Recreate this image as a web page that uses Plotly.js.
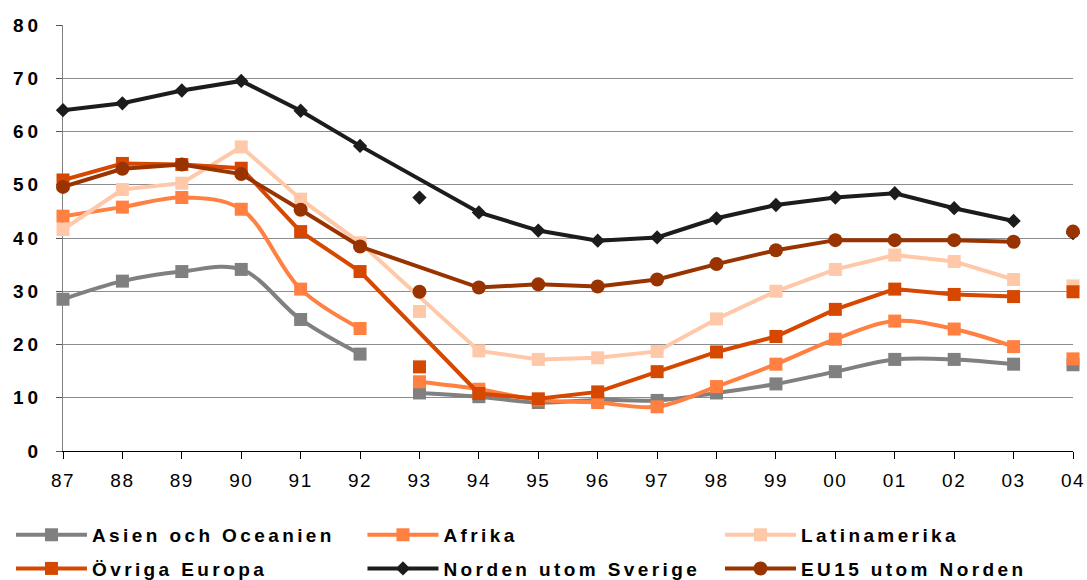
<!DOCTYPE html>
<html>
<head>
<meta charset="utf-8">
<script src="https://cdn.plot.ly/plotly-3.0.1.min.js"></script>
<style>
  html, body { margin: 0; padding: 0; background: #fff; }
  #chart { width: 1087px; height: 580px; }
  .ytick text { letter-spacing: 4px; }
  .xtick text { letter-spacing: 1.5px; }
</style>
</head>
<body>
<div id="chart"></div>
<script>
// ---- data ----
const years = ['87','88','89','90','91','92','93','94','95','96','97','98','99','00','01','02','03','04'];

const seriesNames = ['Asien och Oceanien', 'Afrika', 'Latinamerika', 'Övriga Europa', 'Norden utom Sverige', 'EU15 utom Norden'];

const asien  = [28.5, 31.9, 33.7, 34.1, 24.7, 18.2, 10.9, 10.2, 9.1, 9.6, 9.5, 10.9, 12.6, 14.9, 17.2, 17.2, 16.3, 16.2];
const afrika = [44.1, 45.8, 47.6, 45.4, 30.4, 23.0, 13.0, 11.6, 9.6, 9.1, 8.3, 12.1, 16.3, 21.0, 24.4, 22.9, 19.6, 17.3];
const latin  = [41.6, 49.1, 50.3, 57.1, 47.3, 39.1, 26.2, 18.8, 17.2, 17.5, 18.7, 24.8, 30.0, 34.1, 36.8, 35.6, 32.2, 31.0];
const ovriga = [50.9, 54.0, 53.8, 53.1, 41.2, 33.7, 15.8, 10.8, 9.8, 11.1, 14.9, 18.6, 21.5, 26.6, 30.4, 29.4, 29.0, 29.9];
const norden = [64.0, 65.3, 67.7, 69.5, 63.9, 57.3, 47.6, 44.8, 41.4, 39.5, 40.1, 43.7, 46.2, 47.6, 48.4, 45.6, 43.2, 40.9];
const eu15   = [49.6, 53.0, 53.8, 52.0, 45.3, 38.4, 29.9, 30.7, 31.3, 30.9, 32.2, 35.1, 37.7, 39.6, 39.6, 39.6, 39.3, 41.2];

// ---- structure: which points are joined by lines ----
const range = (a, b) => Array.from({length: b - a + 1}, (_, i) => a + i);
// line runs 87-92 and jumps over 93 to 94-03; 93 and 04 stand alone
const joinOver93 = { segments: [range(0, 5).concat(range(7, 16))], alone: [6, 17] };
// line breaks between 92 and 93; 04 stands alone
const breakAt93  = { segments: [range(0, 5), range(6, 16)], alone: [17] };

// ---- styles ----
const colors  = ['#808080', '#FF8040', '#FFC8A8', '#D64800', '#1C1C1C', '#993300'];
const symbols = ['square', 'square', 'square', 'square', 'diamond', 'circle'];
const msizes  = [13, 13, 13, 13, 11, 14];
const shapes  = ['spline', 'spline', 'linear', 'linear', 'linear', 'linear'];
const layouts = [breakAt93, breakAt93, joinOver93, joinOver93, joinOver93, joinOver93];
const values  = [asien, afrika, latin, ovriga, norden, eu15];
const legendIds = ['legend', 'legend2', 'legend3', 'legend4', 'legend5', 'legend6'];

const traces = [];
values.forEach((vals, s) => {
  const marker = { color: colors[s], symbol: symbols[s], size: msizes[s], line: { width: 0 } };
  layouts[s].segments.forEach((idx, k) => {
    traces.push({
      type: 'scatter', mode: 'lines+markers',
      name: seriesNames[s], legendgroup: seriesNames[s], legend: legendIds[s],
      showlegend: k === 0,
      x: idx.map(i => years[i]), y: idx.map(i => vals[i]),
      line: { color: colors[s], width: 4, shape: shapes[s], smoothing: 1 },
      marker: marker, cliponaxis: false, hoverinfo: 'x+y+name'
    });
  });
  const al = layouts[s].alone;
  traces.push({
    type: 'scatter', mode: 'markers',
    name: seriesNames[s], legendgroup: seriesNames[s], legend: legendIds[s],
    showlegend: false,
    x: al.map(i => years[i]), y: al.map(i => vals[i]),
    marker: marker, cliponaxis: false, hoverinfo: 'x+y+name'
  });
});

const FONT = 'Liberation Sans, Arial, Helvetica, sans-serif';
const legendBase = {
  xanchor: 'left', yanchor: 'middle', bgcolor: 'rgba(0,0,0,0)', borderwidth: 0,
  itemwidth: 71, font: { family: FONT, size: 19, color: '#000', weight: 'bold' },
  itemclick: false, itemdoubleclick: false
};
const colX = [-0.0515, 0.2965, 0.6505];
const rowY = [-0.197, -0.276];

const layout = {
  width: 1087, height: 580,
  margin: { l: 63, r: 14, t: 25, b: 129, autoexpand: false },
  paper_bgcolor: '#fff', plot_bgcolor: '#fff',
  font: { family: FONT, color: '#000' },
  xaxis: {
    type: 'category', categoryorder: 'array', categoryarray: years,
    range: [0, 17], showgrid: false, zeroline: false, automargin: false,
    showline: true, linecolor: '#000', linewidth: 1,
    ticks: 'outside', ticklen: 7, tickcolor: '#000', tickwidth: 1,
    tickfont: { family: FONT, size: 19, color: '#000' },
    ticklabelstandoff: 5, layer: 'below traces', fixedrange: true
  },
  yaxis: {
    range: [0, 80], dtick: 10, tick0: 0, automargin: false,
    showgrid: true, gridcolor: '#8c8c8c', gridwidth: 1, zeroline: false,
    showline: true, linecolor: '#808080', linewidth: 1,
    ticks: 'outside', ticklen: 6, tickcolor: '#555', tickwidth: 1,
    tickfont: { family: FONT, size: 19, color: '#000', weight: 'bold' },
    ticklabelstandoff: 10, layer: 'below traces', fixedrange: true
  },
  showlegend: true,
  legend:  Object.assign({}, legendBase, { x: colX[0], y: rowY[0] }),
  legend2: Object.assign({}, legendBase, { x: colX[1], y: rowY[0] }),
  legend3: Object.assign({}, legendBase, { x: colX[2], y: rowY[0] }),
  legend4: Object.assign({}, legendBase, { x: colX[0], y: rowY[1] }),
  legend5: Object.assign({}, legendBase, { x: colX[1], y: rowY[1] }),
  legend6: Object.assign({}, legendBase, { x: colX[2], y: rowY[1] })
};

Plotly.newPlot('chart', traces, layout, { displayModeBar: false, staticPlot: true }).then(gd => {
  gd.querySelectorAll('.infolayer text').forEach(t => { t.style.letterSpacing = '3.4px'; });
  gd.querySelectorAll('.infolayer [clip-path]').forEach(el => el.removeAttribute('clip-path'));
});
</script>
</body>
</html>
